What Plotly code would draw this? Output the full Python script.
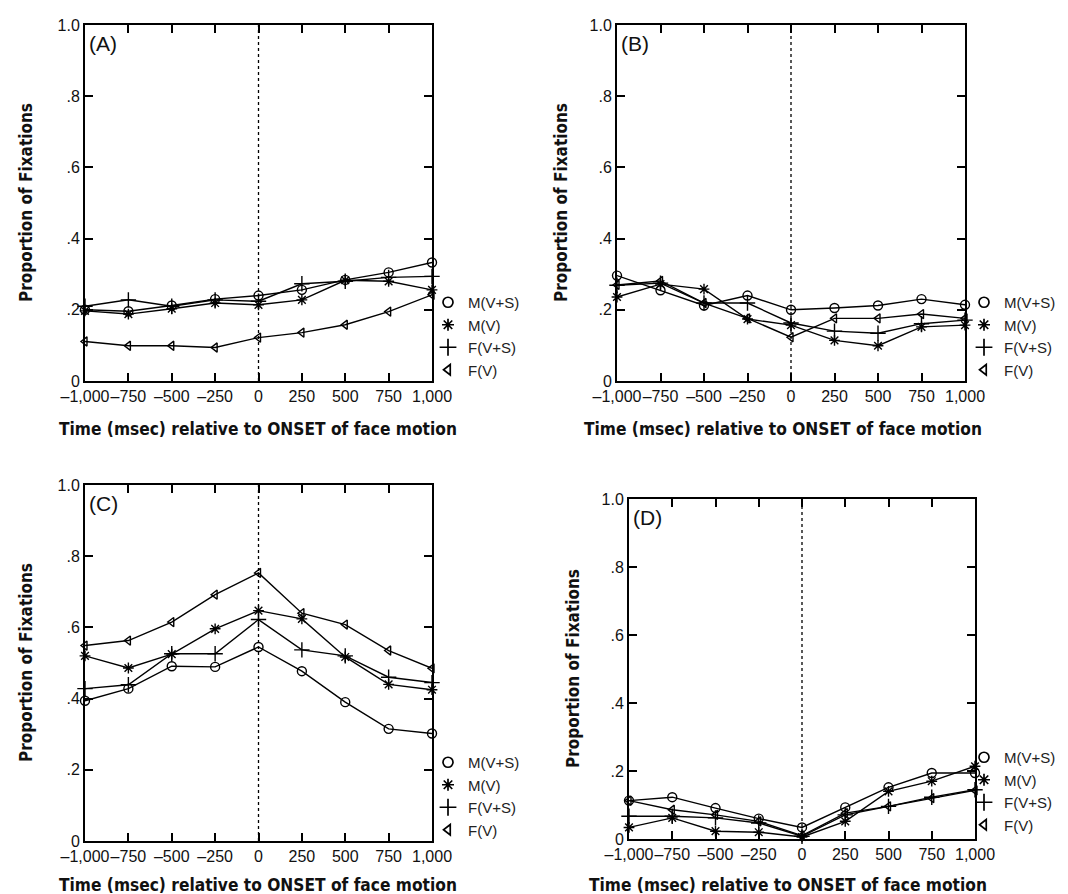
import plotly.graph_objects as go

W, H = 1068, 894

times = [-1000, -750, -500, -250, 0, 250, 500, 750, 1000]
x_tick_labels = ["\u20131,000", "\u2013750", "\u2013500", "\u2013250", "0", "250", "500", "750", "1,000"]
y_tick_vals = [0, 0.2, 0.4, 0.6, 0.8, 1.0]
y_tick_labels = ["0", ".2", ".4", ".6", ".8", "1.0"]
series_names = ["M(V+S)", "M(V)", "F(V+S)", "F(V)"]

# Panel A
A_MVS = [0.200, 0.196, 0.212, 0.230, 0.240, 0.256, 0.284, 0.305, 0.333]
A_MV = [0.197, 0.188, 0.203, 0.219, 0.214, 0.228, 0.283, 0.280, 0.256]
A_FVS = [0.210, 0.228, 0.210, 0.228, 0.224, 0.273, 0.280, 0.291, 0.294]
A_FV = [0.111, 0.099, 0.099, 0.094, 0.122, 0.136, 0.158, 0.195, 0.242]
# Panel B
B_MVS = [0.296, 0.255, 0.212, 0.240, 0.200, 0.205, 0.212, 0.230, 0.214]
B_MV = [0.236, 0.272, 0.258, 0.174, 0.157, 0.114, 0.099, 0.152, 0.157]
B_FVS = [0.269, 0.275, 0.219, 0.219, 0.163, 0.140, 0.134, 0.161, 0.171]
B_FV = [0.270, 0.281, 0.219, 0.176, 0.123, 0.176, 0.176, 0.188, 0.176]
# Panel C
C_MVS = [0.394, 0.428, 0.491, 0.489, 0.545, 0.477, 0.390, 0.315, 0.302]
C_MV = [0.520, 0.486, 0.525, 0.596, 0.647, 0.624, 0.517, 0.440, 0.425]
C_FVS = [0.428, 0.439, 0.526, 0.526, 0.622, 0.537, 0.520, 0.460, 0.445]
C_FV = [0.549, 0.563, 0.615, 0.692, 0.753, 0.640, 0.608, 0.535, 0.485]
# Panel D
D_MVS = [0.113, 0.123, 0.091, 0.060, 0.034, 0.093, 0.152, 0.194, 0.194]
D_MV = [0.034, 0.062, 0.023, 0.020, 0.006, 0.052, 0.140, 0.170, 0.214]
D_FVS = [0.067, 0.067, 0.062, 0.047, 0.008, 0.071, 0.096, 0.123, 0.145]
D_FV = [0.113, 0.086, 0.071, 0.052, 0.010, 0.076, 0.096, 0.120, 0.143]

panels = [
    ("(A)", [A_MVS, A_MV, A_FVS, A_FV]),
    ("(B)", [B_MVS, B_MV, B_FVS, B_FV]),
    ("(C)", [C_MVS, C_MV, C_FVS, C_FV]),
    ("(D)", [D_MVS, D_MV, D_FVS, D_FV]),
]

# pixel boxes of the plot areas: left, right, top, bottom
boxes = [
    (77, 424, 17, 373),
    (609, 957, 17, 373),
    (77, 424, 477, 833),
    (621, 967, 491, 831),
]
legend_pos = [(420, 278), (956, 278), (420, 738), (956, 733)]
ytitle_x = [18, 553, 18, 565]
xtitle_y = [421, 421, 877, 877]
xtitle_cx = [250, 775, 250, 780]

symbols = ["circle-open", "asterisk-open", "cross-thin-open", "triangle-left-open"]
msizes = [9, 9, 11, 8]

BASE = "Liberation Sans, Arial, Helvetica, sans-serif"
TICK_FONT = dict(family=BASE, size=16, color="#111")
TITLE_FONT = "Liberation Sans Narrow, DejaVu Sans Condensed, Arial Narrow, sans-serif"

fig = go.Figure()
annotations = []
shapes = []

for i, (label, data) in enumerate(panels):
    l, r, t, b = boxes[i]
    n = "" if i == 0 else str(i + 1)
    xa, ya = "x" + n, "y" + n
    leg = "legend" + n
    for k, (name, vals) in enumerate(zip(series_names, data)):
        fig.add_trace(go.Scatter(
            x=times, y=vals, mode="lines+markers", name=name,
            line=dict(color="black", width=1.4),
            marker=dict(symbol=symbols[k], size=msizes[k], color="black",
                        line=dict(color="black", width=1.4)),
            xaxis=xa, yaxis=ya, showlegend=False, cliponaxis=False,
        ))
        fig.add_trace(go.Scatter(
            x=[None], y=[None], mode="markers", name=name,
            marker=dict(symbol=symbols[k], size=msizes[k] + 1, color="black",
                        line=dict(color="black", width=1.7)),
            xaxis=xa, yaxis=ya, showlegend=True, legend=leg,
        ))
    axis_common = dict(
        showline=True, linecolor="black", linewidth=2, mirror="ticks",
        ticks="inside", ticklen=8, tickwidth=2, tickcolor="black",
        showgrid=False, zeroline=False, tickfont=TICK_FONT, automargin=False,
    )
    fig.layout["xaxis" + n] = dict(
        domain=[l / W, r / W], range=[-1000, 1000], anchor=ya,
        tickvals=times, ticktext=x_tick_labels, tickangle=0, **axis_common,
    )
    fig.layout["yaxis" + n] = dict(
        domain=[1 - b / H, 1 - t / H], range=[0, 1], anchor=xa,
        tickvals=y_tick_vals, ticktext=y_tick_labels, **axis_common,
    )
    lx, ly = legend_pos[i]
    fig.layout[leg] = dict(
        x=lx / W, y=1 - ly / H, xanchor="left", yanchor="top",
        font=dict(family=BASE, size=15, color="#222"),
        bgcolor="rgba(0,0,0,0)", itemwidth=30, tracegroupgap=0,
    )
    shapes.append(dict(type="line", xref=xa, yref=ya, x0=0, x1=0, y0=0, y1=1,
                       line=dict(color="black", width=1.3, dash="dot")))
    annotations.append(dict(text=label, xref=xa + " domain", yref=ya + " domain",
                            x=0.005, y=0.985, xanchor="left", yanchor="top",
                            showarrow=False,
                            font=dict(family=BASE, size=21, color="#111")))
    annotations.append(dict(text="<b>Proportion of Fixations</b>", xref="paper", yref="paper",
                            x=ytitle_x[i] / W, y=1 - (t + b) / 2 / H, textangle=-90,
                            xanchor="center", yanchor="middle", showarrow=False,
                            font=dict(family=TITLE_FONT, size=17, color="#111")))
    annotations.append(dict(text="<b>Time (msec) relative to ONSET of face motion</b>",
                            xref="paper", yref="paper",
                            x=xtitle_cx[i] / W, y=1 - xtitle_y[i] / H,
                            xanchor="center", yanchor="middle", showarrow=False,
                            font=dict(family=TITLE_FONT, size=17.2, color="#111")))

fig.update_layout(
    width=W, height=H, margin=dict(l=0, r=0, t=0, b=0),
    paper_bgcolor="white", plot_bgcolor="white",
    annotations=annotations, shapes=shapes,
)

fig.write_html("out.html")
